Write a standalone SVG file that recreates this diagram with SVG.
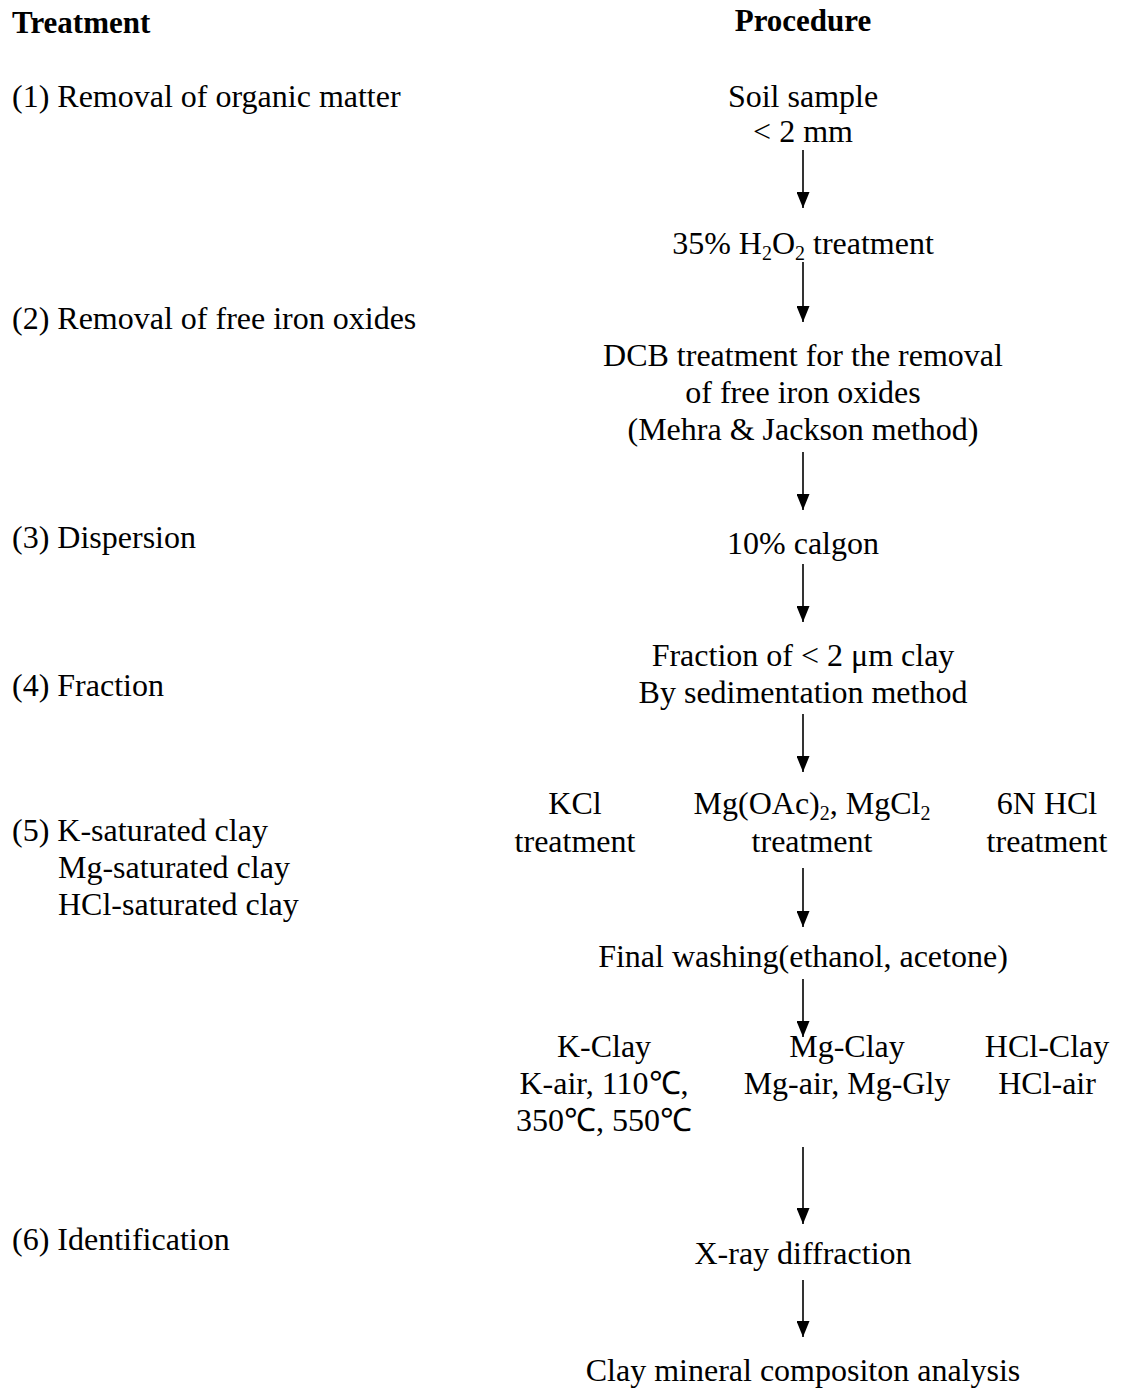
<svg xmlns="http://www.w3.org/2000/svg" width="1127" height="1392" viewBox="0 0 1127 1392">
<style>
text{font-family:"Liberation Serif","Times New Roman",serif;font-size:32px;fill:#000}
.b{font-weight:bold;font-size:31px}
.c{text-anchor:middle}
.s{font-size:20px}
.ln{stroke:#000;stroke-width:1.6;fill:none}
</style>
<defs>
<marker id="ah" markerWidth="16" markerHeight="13" refX="16" refY="6.5" orient="auto" markerUnits="userSpaceOnUse" viewBox="0 0 16 13">
<path d="M0,0 L16,6.5 L0,13 Z" fill="#000"/>
</marker>
</defs>
<rect width="1127" height="1392" fill="#fff"/>
<g id="headers">
<text class="b" x="12" y="33">Treatment</text>
<text class="b c" x="803" y="31">Procedure</text>
</g>
<g id="treatments">
<text x="12" y="107">(1) Removal of organic matter</text>
<text x="12" y="329">(2) Removal of free iron oxides</text>
<text x="12" y="548">(3) Dispersion</text>
<text x="12" y="696">(4) Fraction</text>
<text x="12" y="841">(5) K-saturated clay</text>
<text x="58" y="878">Mg-saturated clay</text>
<text x="58" y="915">HCl-saturated clay</text>
<text x="12" y="1250">(6) Identification</text>
</g>
<g id="n1"><text class="c" x="803" y="107">Soil sample</text><text class="c" x="803" y="142">&lt; 2 mm</text></g>
<g id="n2"><text class="c" x="803" y="254">35% H<tspan class="s" dy="6">2</tspan><tspan dy="-6">O</tspan><tspan class="s" dy="6">2</tspan><tspan dy="-6"> treatment</tspan></text></g>
<g id="n3"><text class="c" x="803" y="366">DCB treatment for the removal</text><text class="c" x="803" y="403">of free iron oxides</text><text class="c" x="803" y="440">(Mehra &amp; Jackson method)</text></g>
<g id="n4"><text class="c" x="803" y="554">10% calgon</text></g>
<g id="n5"><text class="c" x="803" y="666">Fraction of &lt; 2 μm clay</text><text class="c" x="803" y="703">By sedimentation method</text></g>
<g id="n6a"><text class="c" x="575" y="814">KCl</text><text class="c" x="575" y="852">treatment</text></g>
<g id="n6b"><text class="c" x="812" y="814">Mg(OAc)<tspan class="s" dy="6">2</tspan><tspan dy="-6">, MgCl</tspan><tspan class="s" dy="6">2</tspan></text><text class="c" x="812" y="852">treatment</text></g>
<g id="n6c"><text class="c" x="1047" y="814">6N HCl</text><text class="c" x="1047" y="852">treatment</text></g>
<g id="n7"><text class="c" x="803" y="967">Final washing(ethanol, acetone)</text></g>
<g id="n8a"><text class="c" x="604" y="1057">K-Clay</text><text class="c" x="604" y="1094">K-air, 110℃,</text><text class="c" x="604" y="1131">350℃, 550℃</text></g>
<g id="n8b"><text class="c" x="847" y="1057">Mg-Clay</text><text class="c" x="847" y="1094">Mg-air, Mg-Gly</text></g>
<g id="n8c"><text class="c" x="1047" y="1057">HCl-Clay</text><text class="c" x="1047" y="1094">HCl-air</text></g>
<g id="n9"><text class="c" x="803" y="1264">X-ray diffraction</text></g>
<g id="n10"><text class="c" x="803" y="1381">Clay mineral compositon analysis</text></g>
<g id="connectors">
<line class="ln" x1="803" y1="150" x2="803" y2="208" marker-end="url(#ah)"/>
<line class="ln" x1="803" y1="262" x2="803" y2="322" marker-end="url(#ah)"/>
<line class="ln" x1="803" y1="452" x2="803" y2="510" marker-end="url(#ah)"/>
<line class="ln" x1="803" y1="564" x2="803" y2="622" marker-end="url(#ah)"/>
<line class="ln" x1="803" y1="714" x2="803" y2="772" marker-end="url(#ah)"/>
<line class="ln" x1="803" y1="868" x2="803" y2="927" marker-end="url(#ah)"/>
<line class="ln" x1="803" y1="979" x2="803" y2="1037" marker-end="url(#ah)"/>
<line class="ln" x1="803" y1="1147" x2="803" y2="1224" marker-end="url(#ah)"/>
<line class="ln" x1="803" y1="1280" x2="803" y2="1337" marker-end="url(#ah)"/>
</g>
</svg>
